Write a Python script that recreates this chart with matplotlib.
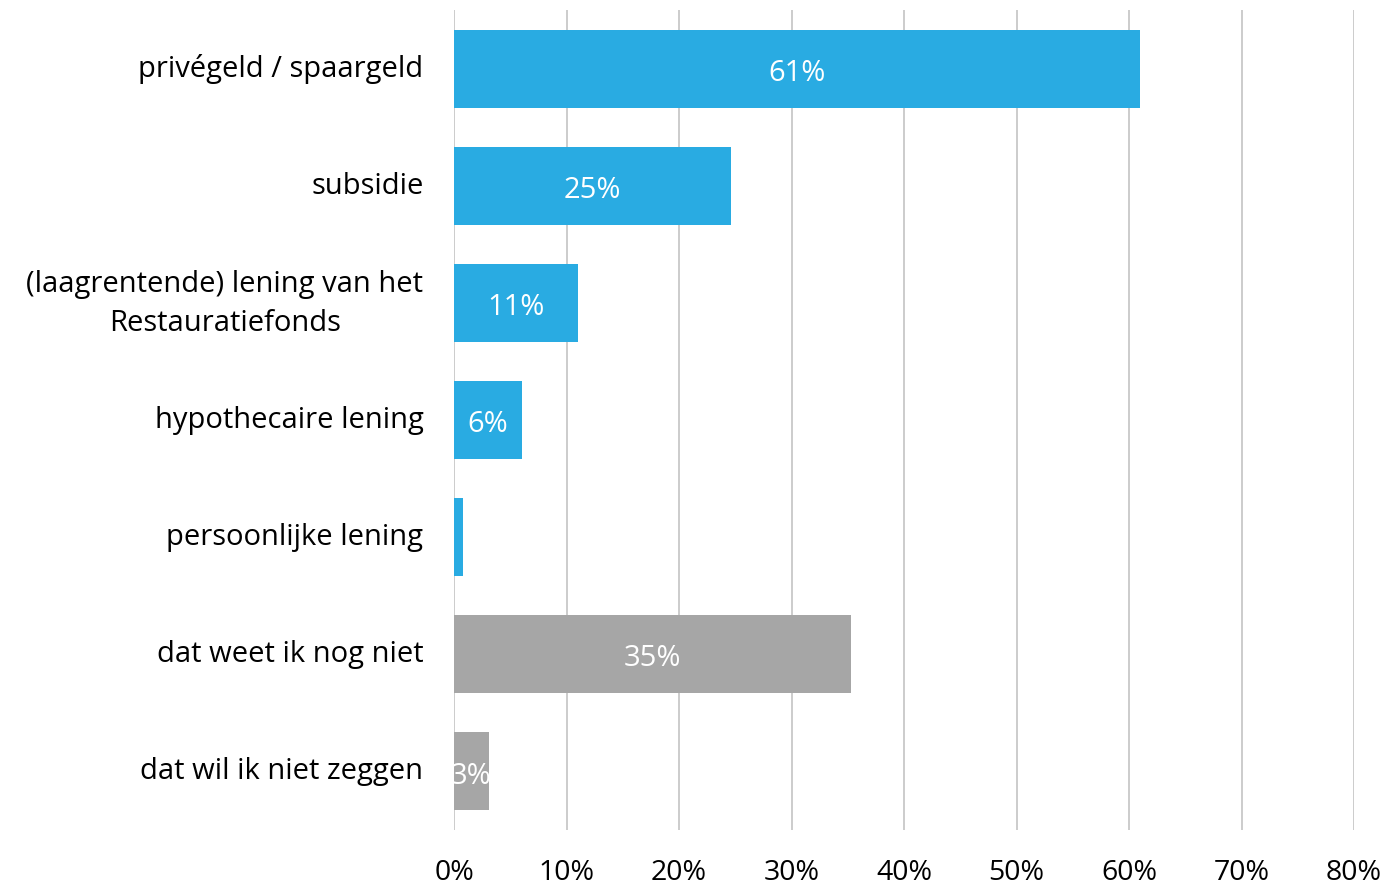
import numpy as np
import matplotlib.pyplot as plt
from matplotlib.transforms import ScaledTranslation

categories = ["privégeld / spaargeld", "subsidie",
              "(laagrentende) lening van het\nRestauratiefonds",
              "hypothecaire lening", "persoonlijke lening",
              "dat weet ik nog niet", "dat wil ik niet zeggen"]
values = [0.61, 0.246, 0.11, 0.06, 0.008, 0.353, 0.031]
value_labels = ["61%", "25%", "11%", "6%", "", "35%", "3%"]
colors = ["#29ABE2"] * 5 + ["#A6A6A6"] * 2
xticks = np.arange(0, 0.81, 0.1)
xtick_labels = [f"{int(round(t*100))}%" for t in xticks]

plt.rcParams['font.family'] = ['Open Sans', 'DejaVu Sans']

fig = plt.figure(figsize=(14, 8.86), dpi=100)
ax = fig.add_axes([454/1400, 1 - 830/886, 900/1400, 820/886])

y = np.arange(len(categories))
ax.barh(y, values, height=0.667, color=colors, zorder=3)

for yi, v, lab in zip(y, values, value_labels):
    if lab:
        ax.text(v / 2, yi + 0.04, lab, ha='center', va='center', color='white',
                fontsize=21, zorder=4)

ax.set_xlim(0, 0.8)
ax.set_ylim(len(categories) - 0.5, -0.5)
ax.set_xticks(xticks)
ax.set_xticklabels(xtick_labels, fontsize=20.5)
ax.set_yticks(y)
ax.set_yticklabels(categories, fontsize=21, multialignment='center',
                   linespacing=1.45)
ax.tick_params(axis='x', length=0, pad=21)
ax.tick_params(axis='y', length=0, pad=22)
ax.grid(axis='x', color='#c8c8c8', linewidth=1.3, zorder=0)
for s in ax.spines.values():
    s.set_visible(False)

# nudge category labels up a little
for lbl in ax.get_yticklabels():
    dy = 7 if "\n" in lbl.get_text() else 3
    lbl.set_transform(lbl.get_transform() + ScaledTranslation(0, dy / 100, fig.dpi_scale_trans))

fig.savefig("out.png", dpi=100)
